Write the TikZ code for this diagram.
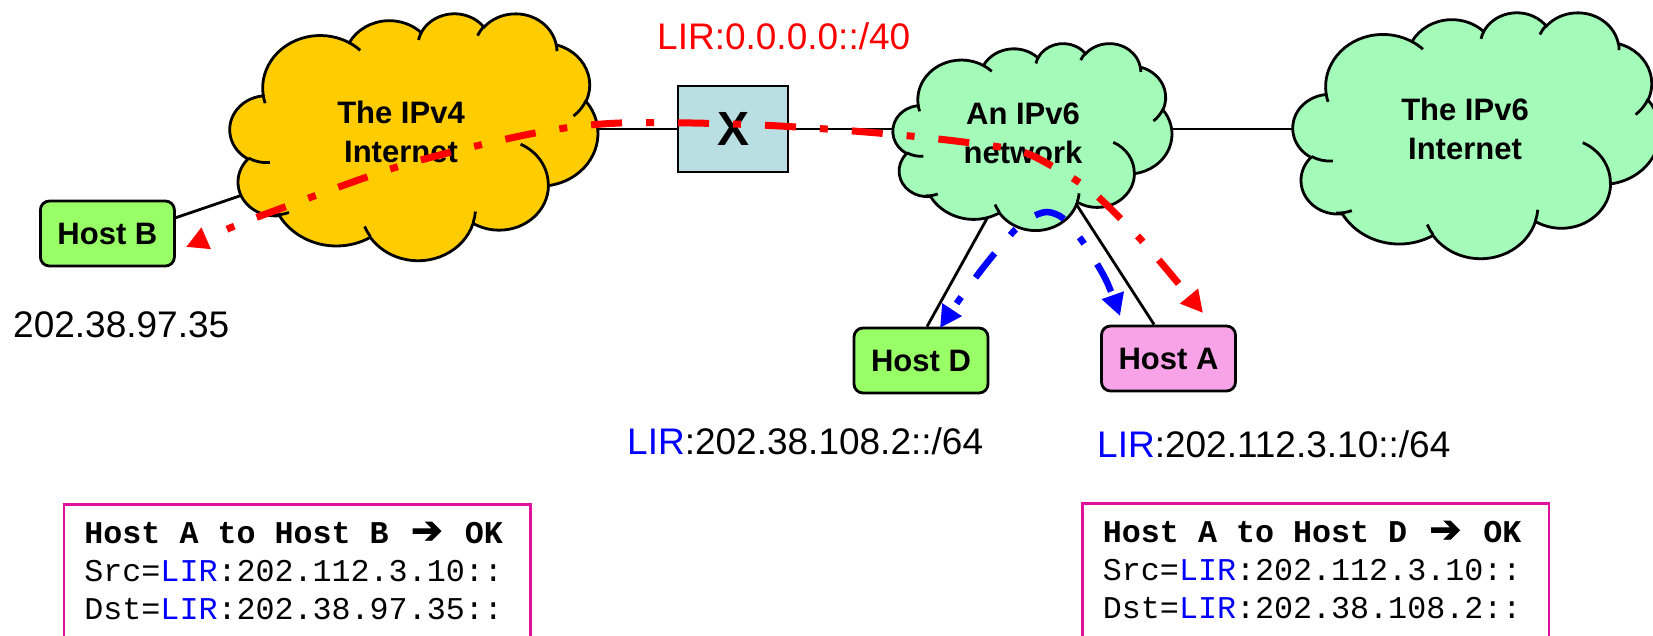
\documentclass[tikz,border=0pt]{standalone}
\usepackage{fontspec}
\setmainfont{Liberation Sans}
\newfontfamily\monofont{Liberation Mono}
\newfontfamily\dejavuheavy[FakeBold=2.5]{DejaVu Sans}
\usetikzlibrary{arrows.meta}
\definecolor{goldfill}{RGB}{255,204,0}
\definecolor{cloudgreen}{RGB}{163,250,185}
\definecolor{hostgreen}{RGB}{153,255,102}
\definecolor{hostpink}{RGB}{248,163,232}
\definecolor{xfill}{RGB}{186,223,226}
\definecolor{framecol}{RGB}{224,16,156}
\definecolor{lirblue}{RGB}{0,0,255}
\newcommand\cloudoutline{(9.028,33.264)
 arc[start angle=172.255,end angle=300.37,x radius=15.632,y radius=21.273]
 arc[start angle=-152.03,end angle=-45.46,x radius=12.345,y radius=16.822]
 arc[start angle=-153.50,end angle=-37.33,x radius=10.104,y radius=13.762]
 arc[start angle=-139.72,end angle=-10.21,x radius=11.243,y radius=15.266]
 arc[start angle=-74.77,end angle=23.21,x radius=12.345,y radius=16.836]
 arc[start angle=-37.52,end angle=81.86,x radius=15.683,y radius=21.343]
 arc[start angle=0.46,end angle=121.98,x radius=13.391,y radius=18.211]
 arc[start angle=16.84,end angle=146.22,x radius=15.630,y radius=21.331]
 arc[start angle=58.98,end angle=150.20,x radius=17.870,y radius=24.405]
 arc[start angle=83.31,end angle=223.11,x radius=10.093,y radius=13.699]
 arc[start angle=120.36,end angle=264.11,x radius=10.058,y radius=13.762]
 -- cycle}
\newcommand\cloudinner{
 (10.863,60.595) arc[start angle=85.55,end angle=120.36,x radius=10.058,y radius=13.762]
 (16.037,80.785) arc[start angle=68.23,end angle=93.22,x radius=10.093,y radius=13.699]
 (38.144,90.486) arc[start angle=146.22,end angle=158.48,x radius=15.630,y radius=21.331]
 (66.729,80.442) arc[start angle=4.74,end angle=16.84,x radius=15.630,y radius=21.331]
 (79.002,53.134) arc[start angle=-64.03,end angle=0.46,x radius=13.391,y radius=18.211]
 (96.755,35.542) arc[start angle=23.21,end angle=49.65,x radius=12.345,y radius=16.836]
 (88.713,12.560) arc[start angle=-10.21,end angle=0.82,x radius=11.243,y radius=15.266]
 (67.310,9.148) arc[start angle=-156.29,end angle=-139.72,x radius=11.243,y radius=15.266]
 (51.252,10.926) arc[start angle=-167.73,end angle=-153.50,x radius=10.104,y radius=13.762]
 (32.407,12.019) arc[start angle=-59.63,end angle=-45.74,x radius=15.632,y radius=21.273]
 (9.553,36.549) arc[start angle=163.19,end angle=172.255,x radius=15.632,y radius=21.273]}
\newcommand\drawcloud[4]{%
  \begin{scope}[shift={(#2.north west)},x={(#3*0.01pt,0pt)},y={(0pt,-#4*0.01pt)}]
    \filldraw[cloudline,fill=#1] \cloudoutline;
    \draw[cloudline] \cloudinner;
  \end{scope}}
\newcommand\arrowglyph{\makebox[1.2em][c]{\mdseries\dejavuheavy\fontsize{38}{38}\selectfont ➔}}
\newcommand\monospaces{\spaceskip=0.6em\relax\xspaceskip=0.6em\relax}
\newcommand\sansspaces{\spaceskip=0.278em\relax\xspaceskip=0.278em\relax}
\tikzset{
  cloudarea/.style={inner sep=0pt,outer sep=0pt},
  cloudline/.style={line width=2.8pt,draw=black},
  hostbox/.style={draw=black,line width=2.8pt,rounded corners=9pt,minimum width=134pt,minimum height=65pt,inner sep=0pt,font=\bfseries\fontsize{31}{37}\selectfont},
  xbox/.style={draw=black,line width=2.8pt,fill=xfill,minimum width=110pt,minimum height=86pt,inner sep=0pt,font=\bfseries\fontsize{48}{50}\selectfont},
  link/.style={line width=2.8pt,draw=black},
  cloudtext/.style={align=center,inner sep=0pt,font=\bfseries\fontsize{31}{39}\selectfont},
  addr/.style={anchor=base west,inner sep=0pt,font=\fontsize{37}{44}\selectfont},
  codebox/.style={anchor=north west,draw=framecol,line width=2.8pt,text width=425.5pt,align=left,inner xsep=20.5pt,inner ysep=13.7pt,text height=25pt,text depth=200pt,font=\monofont\fontsize{31.7}{38}\selectfont},
  flow/.style={line width=7pt,dash pattern=on 31pt off 24pt on 8pt off 24pt,{Triangle[length=22pt,width=22pt]}-{Triangle[length=22pt,width=22pt]}},
}
\begin{document}
\begin{tikzpicture}[x=1pt,y=-1pt]
\useasboundingbox (0,0) rectangle (1653,635);
\clip (0,0) rectangle (1653,635);
% cloud areas
\node[cloudarea,minimum width=368pt,minimum height=247pt] (ipv4) at (414,136.5) {};
\node[cloudarea,minimum width=279pt,minimum height=187pt] (net) at (1032.5,136.5) {};
\node[cloudarea,minimum width=367pt,minimum height=246pt] (inet) at (1476.5,135) {};
% boxes
\node[hostbox,fill=hostgreen] (hostB) at (107.4,233.5) {Host B};
\node[hostbox,fill=hostgreen] (hostD) at (921,360.5) {Host D};
\node[hostbox,fill=hostpink] (hostA) at (1168.5,358.5) {Host A};
\node[xbox] (xb) at (733,129) {X};
% connectors
\draw[link] (hostB.13) -- (ipv4.center);
\draw[link] (xb.west) -- (xb.west -| ipv4.center);
\draw[link] (xb.east) -- (xb.east -| net.center);
\draw[link] (net.center |- xb.center) -- (inet.center |- xb.center);
\draw[link] (net.center) -- (hostD.80);
\draw[link] (net.center) -- (hostA.113);
% clouds
\drawcloud{goldfill}{ipv4}{368}{247}
\drawcloud{cloudgreen}{net}{279}{187}
\drawcloud{cloudgreen}{inet}{367}{246}
\node[cloudtext] (ipv4txt) at (401,132) {\sansspaces The IPv4\\Internet};
\node[cloudtext] (nettxt) at (1023,133) {\sansspaces An IPv6\\network};
\node[cloudtext] (inettxt) at (1465,129) {\sansspaces The IPv6\\Internet};
% labels
\node[addr,text=red] (lir0) at (657,49) {LIR:0.0.0.0::/40};
\node[addr] (ipB) at (13,337) {202.38.97.35};
\node[addr] (lirD) at (627,454) {\textcolor{lirblue}{LIR}:202.38.108.2::/64};
\node[addr] (lirA) at (1097,457) {\textcolor{lirblue}{LIR}:202.112.3.10::/64};
% code boxes
\node[codebox] (boxB) at (62.5,503) {\monospaces\textbf{Host A to Host B \arrowglyph{} OK}\\Src=\textcolor{lirblue}{LIR}:202.112.3.10::\\Dst=\textcolor{lirblue}{LIR}:202.38.97.35::};
\node[codebox] (boxD) at (1081,502) {\monospaces\textbf{Host A to Host D \arrowglyph{} OK}\\Src=\textcolor{lirblue}{LIR}:202.112.3.10::\\Dst=\textcolor{lirblue}{LIR}:202.38.108.2::};
% flows
\coordinate (rB) at (186,247);
\coordinate (rA) at (1203,313);
\coordinate (bD) at (940,328);
\coordinate (bA) at (1120,316);
\draw[flow,red,dash phase=31pt] plot[smooth,tension=0.5] coordinates {(rB) (237,225) (263,215) (400,166) (530,134) (620,123) (760,125) (900,135) (1011,149) (1052,166) (1090,190) (1121,219) (1152,252) (rA)};
\draw[flow,blue,line width=6.5pt,dash phase=46pt] plot[smooth,tension=0.5] coordinates {(bD) (959,300) (986,264) (1013,232) (1030,218) (1047,212) (1064,219) (1085,245) (1106,280) (bA)};
\end{tikzpicture}
\end{document}
